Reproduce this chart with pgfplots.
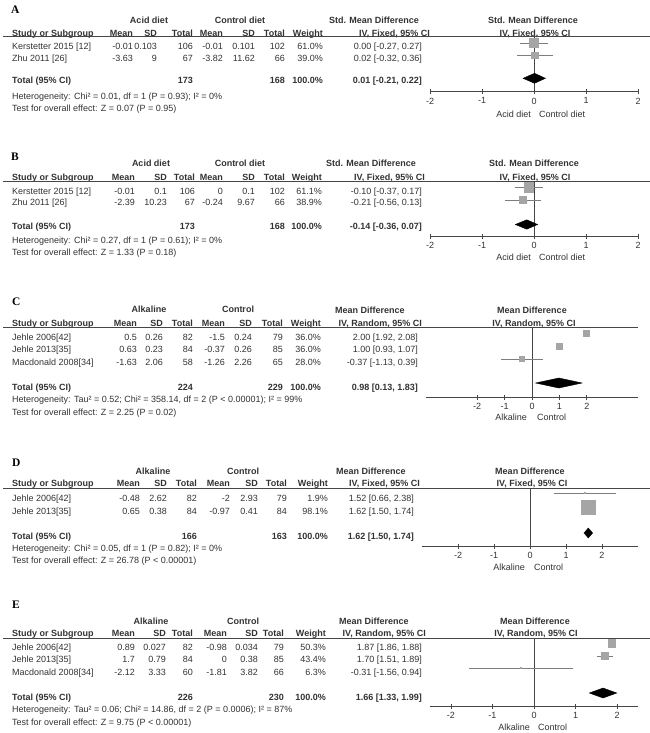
\documentclass[border=0pt]{standalone}
\usepackage{pgfplots}
\pgfplotsset{compat=1.18}
\usepackage{fontspec}
\setmainfont{Liberation Sans}
\newfontfamily\lserif{Liberation Serif}
\definecolor{tcol}{RGB}{50,50,50}
\definecolor{sqcol}{RGB}{165,165,165}
\definecolor{cicol}{RGB}{125,125,125}
\definecolor{rulecol}{RGB}{70,70,70}

\newcommand\TL[3]{\node[anchor=base west,inner sep=0pt,text=tcol] at ({(#1)*1pt},{-(#2+3.2)*1pt}) {#3};}
\newcommand\TR[3]{\node[anchor=base east,inner sep=0pt,text=tcol] at ({(#1)*1pt},{-(#2+3.2)*1pt}) {#3};}
\newcommand\TC[3]{\node[anchor=base,inner sep=0pt,text=tcol] at ({(#1)*1pt},{-(#2+3.2)*1pt}) {#3};}
\newcommand\Lab[3]{\node[anchor=west,inner sep=0pt] at ({(#1)*1pt},{-(#2)*1pt}) {\lserif\bfseries\fontsize{11.5}{13}\selectfont #3};}
\newcommand\setcols[8]{\def\cMa{#1}\def\cSa{#2}\def\cNa{#3}\def\cMb{#4}\def\cSb{#5}\def\cNb{#6}\def\cW{#7}\def\cCI{#8}}
\newcommand\Row[9]{\TL{12}{#1}{#2}\TR{\cMa}{#1}{#3}\TR{\cSa}{#1}{#4}\TR{\cNa}{#1}{#5}\TR{\cMb}{#1}{#6}\TR{\cSb}{#1}{#7}\TR{\cNb}{#1}{#8}\TR{\cW}{#1}{#9}}
\newcommand\HeadRow[1]{\Row{#1}{\bfseries Study or Subgroup}{\bfseries Mean}{\bfseries SD}{\bfseries Total}{\bfseries Mean}{\bfseries SD}{\bfseries Total}{\bfseries Weight}}
\newcommand\Rule[2]{\draw[rulecol,line width=0.8pt] (3pt,{-(#1)*1pt}) -- ({(#2)*1pt},{-(#1)*1pt});}

\pgfplotsset{
  forest/.style={scale only axis, anchor=south west, clip=false,
    axis x line*=bottom, axis y line=none, ytick=\empty,
    xtick={-2,-1,0,1,2}, minor tick num=0,
    tick align=center, major tick length=5pt,
    x axis line style={rulecol,line width=0.6pt},
    every tick/.style={rulecol,line width=0.6pt},
    xticklabel style={font=\fontsize{9}{10}\selectfont, text=tcol},
    /pgf/number format/assume math mode=true},
  zline/.style={rulecol,line width=0.6pt,mark=none},
  ciline/.style={cicol,line width=0.7pt,mark=none},
  sq/.style={only marks,mark=square*,color=sqcol,mark options={draw=sqcol,fill=sqcol,line width=0pt}},
  dia/.style={fill=black,draw=black,mark=none}
}

\begin{document}
\begin{tikzpicture}[font=\fontsize{9}{11}\selectfont]
\useasboundingbox (0pt,0pt) rectangle (650pt,-733pt);

% ================= Panel A =================
\Lab{11}{10}{A}
\setcols{133}{157}{193}{223}{255}{285}{323}{422}
\TC{149}{20}{\bfseries Acid diet}
\TC{240}{20}{\bfseries Control diet}
\TC{374}{20}{\bfseries Std. Mean Difference}
\TC{533}{20}{\bfseries Std. Mean Difference}
\HeadRow{33}
\TR{430}{33}{\bfseries IV, Fixed, 95\% CI}
\TC{535}{33}{\bfseries IV, Fixed, 95\% CI}
\Rule{36.7}{650}
\Row{46}{Kerstetter 2015 [12]}{-0.01}{0.103}{106}{-0.01}{0.101}{102}{61.0\%}\TR{\cCI}{46}{0.00 [-0.27, 0.27]}
\Row{58}{Zhu 2011 [26]}{-3.63}{9}{67}{-3.82}{11.62}{66}{39.0\%}\TR{\cCI}{58}{0.02 [-0.32, 0.36]}
\Row{80}{\bfseries Total (95\% CI)}{}{}{\bfseries 173}{}{}{\bfseries 168}{\bfseries 100.0\%}\TR{\cCI}{80}{\bfseries 0.01 [-0.21, 0.22]}
\TL{12}{96}{Heterogeneity: Chi² = 0.01, df = 1 (P = 0.93); I² = 0\%}
\TL{12}{108}{Test for overall effect: Z = 0.07 (P = 0.95)}
\TR{531}{114}{Acid diet}
\TL{539}{114}{Control diet}
\begin{axis}[forest, at={(430pt,-91.7pt)}, width=208pt, height=55pt,
  xmin=-2, xmax=2, ymin=-91.7, ymax=-36.7]
\addplot[zline] coordinates {(0,-36.7) (0,-91.7)};
\addplot[ciline] coordinates {(-0.27,-43.3) (0.27,-43.3)};
\addplot[sq,mark size=4.4pt] coordinates {(0.00,-43.3)};
\addplot[ciline] coordinates {(-0.32,-55.7) (0.36,-55.7)};
\addplot[sq,mark size=3.3pt] coordinates {(0.02,-55.7)};
\addplot[dia] coordinates {(-0.21,-78.3) (0.01,-73.3) (0.22,-78.3) (0.01,-83.3)} -- cycle;
\end{axis}

% ================= Panel B =================
\Lab{11}{157}{B}
\setcols{135}{167}{195}{223}{255}{285}{322}{422}
\TC{151}{163}{\bfseries Acid diet}
\TC{240}{163}{\bfseries Control diet}
\TC{371}{163}{\bfseries Std. Mean Difference}
\TC{534}{163}{\bfseries Std. Mean Difference}
\HeadRow{177}
\TR{425}{177}{\bfseries IV, Fixed, 95\% CI}
\TC{535}{177}{\bfseries IV, Fixed, 95\% CI}
\Rule{181}{650}
\Row{191}{Kerstetter 2015 [12]}{-0.01}{0.1}{106}{0}{0.1}{102}{61.1\%}\TR{\cCI}{191}{-0.10 [-0.37, 0.17]}
\Row{202}{Zhu 2011 [26]}{-2.39}{10.23}{67}{-0.24}{9.67}{66}{38.9\%}\TR{\cCI}{202}{-0.21 [-0.56, 0.13]}
\Row{226}{\bfseries Total (95\% CI)}{}{}{\bfseries 173}{}{}{\bfseries 168}{\bfseries 100.0\%}\TR{\cCI}{226}{\bfseries -0.14 [-0.36, 0.07]}
\TL{12}{240}{Heterogeneity: Chi² = 0.27, df = 1 (P = 0.61); I² = 0\%}
\TL{12}{252}{Test for overall effect: Z = 1.33 (P = 0.18)}
\TR{531}{257}{Acid diet}
\TL{539}{257}{Control diet}
\begin{axis}[forest, at={(430pt,-236pt)}, width=208pt, height=55pt,
  xmin=-2, xmax=2, ymin=-236, ymax=-181]
\addplot[zline] coordinates {(0,-181) (0,-236)};
\addplot[ciline] coordinates {(-0.37,-187.6) (0.17,-187.6)};
\addplot[sq,mark size=4.6pt] coordinates {(-0.10,-187.6)};
\addplot[ciline] coordinates {(-0.56,-200) (0.13,-200)};
\addplot[sq,mark size=3.2pt] coordinates {(-0.21,-200)};
\addplot[dia] coordinates {(-0.36,-224.5) (-0.14,-219.8) (0.07,-224.5) (-0.14,-229.2)} -- cycle;
\end{axis}

% ================= Panel C =================
\Lab{12}{302}{C}
\setcols{137}{163}{193}{225}{252}{283}{321}{418}
\TC{149}{309}{\bfseries Alkaline}
\TC{238}{309}{\bfseries Control}
\TC{370}{310}{\bfseries Mean Difference}
\TC{532}{310}{\bfseries Mean Difference}
\HeadRow{323}
\TR{422}{323}{\bfseries IV, Random, 95\% CI}
\TC{534}{323}{\bfseries IV, Random, 95\% CI}
\Rule{327.5}{638}
\Row{337}{Jehle 2006[42]}{0.5}{0.26}{82}{-1.5}{0.24}{79}{36.0\%}\TR{\cCI}{337}{2.00 [1.92, 2.08]}
\Row{349}{Jehle 2013[35]}{0.63}{0.23}{84}{-0.37}{0.26}{85}{36.0\%}\TR{\cCI}{349}{1.00 [0.93, 1.07]}
\Row{362}{Macdonald 2008[34]}{-1.63}{2.06}{58}{-1.26}{2.26}{65}{28.0\%}\TR{\cCI}{362}{-0.37 [-1.13, 0.39]}
\Row{387}{\bfseries Total (95\% CI)}{}{}{\bfseries 224}{}{}{\bfseries 229}{\bfseries 100.0\%}\TR{\cCI}{387}{\bfseries 0.98 [0.13, 1.83]}
\TL{12}{399}{Heterogeneity: Tau² = 0.52; Chi² = 358.14, df = 2 (P < 0.00001); I² = 99\%}
\TL{12}{412}{Test for overall effect: Z = 2.25 (P = 0.02)}
\TR{527}{417}{Alkaline}
\TL{537}{417}{Control}
\begin{axis}[forest, at={(426pt,-397pt)}, width=212pt, height=69.5pt,
  xmin=-3.87, xmax=3.87, ymin=-397, ymax=-327.5]
\addplot[zline] coordinates {(0,-327.5) (0,-397)};
\addplot[ciline] coordinates {(1.92,-333.3) (2.08,-333.3)};
\addplot[sq,mark size=3.0pt] coordinates {(2.00,-333.3)};
\addplot[ciline] coordinates {(0.93,-346) (1.07,-346)};
\addplot[sq,mark size=3.0pt] coordinates {(1.00,-346)};
\addplot[ciline] coordinates {(-1.13,-359) (0.39,-359)};
\addplot[sq,mark size=2.6pt] coordinates {(-0.37,-359)};
\addplot[dia] coordinates {(0.13,-383) (0.98,-378) (1.83,-383) (0.98,-388)} -- cycle;
\end{axis}

% ================= Panel D =================
\Lab{12}{463}{D}
\setcols{140}{167}{197}{230}{258}{287}{328}{414}
\TC{153}{471}{\bfseries Alkaline}
\TC{243}{471}{\bfseries Control}
\TC{371}{471}{\bfseries Mean Difference}
\TC{530}{471}{\bfseries Mean Difference}
\HeadRow{483}
\TR{420}{483}{\bfseries IV, Fixed, 95\% CI}
\TC{532}{483}{\bfseries IV, Fixed, 95\% CI}
\Rule{488}{650}
\Row{498}{Jehle 2006[42]}{-0.48}{2.62}{82}{-2}{2.93}{79}{1.9\%}\TR{\cCI}{498}{1.52 [0.66, 2.38]}
\Row{511}{Jehle 2013[35]}{0.65}{0.38}{84}{-0.97}{0.41}{84}{98.1\%}\TR{\cCI}{511}{1.62 [1.50, 1.74]}
\Row{536}{\bfseries Total (95\% CI)}{}{}{\bfseries 166}{}{}{\bfseries 163}{\bfseries 100.0\%}\TR{\cCI}{536}{\bfseries 1.62 [1.50, 1.74]}
\TL{12}{548}{Heterogeneity: Chi² = 0.05, df = 1 (P = 0.82); I² = 0\%}
\TL{12}{560}{Test for overall effect: Z = 26.78 (P < 0.00001)}
\TR{525}{567}{Alkaline}
\TL{534}{567}{Control}
\begin{axis}[forest, at={(422pt,-546pt)}, width=216pt, height=58pt,
  xmin=-3, xmax=3, ymin=-546, ymax=-488]
\addplot[zline] coordinates {(0,-488) (0,-546)};
\addplot[ciline] coordinates {(0.66,-493) (2.38,-493)};
\addplot[sq,mark size=0.7pt] coordinates {(1.52,-493)};
\addplot[ciline] coordinates {(1.50,-507) (1.74,-507)};
\addplot[sq,mark size=7.0pt] coordinates {(1.62,-507)};
\addplot[dia] coordinates {(1.50,-533) (1.62,-528) (1.74,-533) (1.62,-538)} -- cycle;
\end{axis}

% ================= Panel E =================
\Lab{12}{605}{E}
\setcols{135}{166}{193}{227}{258}{284}{326}{422}
\TC{151}{621}{\bfseries Alkaline}
\TC{243}{621}{\bfseries Control}
\TC{374}{621}{\bfseries Mean Difference}
\TC{535}{621}{\bfseries Mean Difference}
\HeadRow{633}
\TR{426}{633}{\bfseries IV, Random, 95\% CI}
\TC{536}{633}{\bfseries IV, Random, 95\% CI}
\Rule{638}{650}
\Row{647}{Jehle 2006[42]}{0.89}{0.027}{82}{-0.98}{0.034}{79}{50.3\%}\TR{\cCI}{647}{1.87 [1.86, 1.88]}
\Row{659}{Jehle 2013[35]}{1.7}{0.79}{84}{0}{0.38}{85}{43.4\%}\TR{\cCI}{659}{1.70 [1.51, 1.89]}
\Row{672}{Macdonald 2008[34]}{-2.12}{3.33}{60}{-1.81}{3.82}{66}{6.3\%}\TR{\cCI}{672}{-0.31 [-1.56, 0.94]}
\Row{697}{\bfseries Total (95\% CI)}{}{}{\bfseries 226}{}{}{\bfseries 230}{\bfseries 100.0\%}\TR{\cCI}{697}{\bfseries 1.66 [1.33, 1.99]}
\TL{12}{709}{Heterogeneity: Tau² = 0.06; Chi² = 14.86, df = 2 (P = 0.0006); I² = 87\%}
\TL{12}{722}{Test for overall effect: Z = 9.75 (P < 0.00001)}
\TR{530}{727}{Alkaline}
\TL{538}{727}{Control}
\begin{axis}[forest, at={(430pt,-706pt)}, width=208pt, height=68pt,
  xmin=-2.5, xmax=2.5, ymin=-706, ymax=-638]
\addplot[zline] coordinates {(0,-638) (0,-706)};
\addplot[ciline] coordinates {(1.86,-643.5) (1.88,-643.5)};
\addplot[sq,mark size=3.6pt] coordinates {(1.87,-643.5)};
\addplot[ciline] coordinates {(1.51,-656) (1.89,-656)};
\addplot[sq,mark size=3.3pt] coordinates {(1.70,-656)};
\addplot[ciline] coordinates {(-1.56,-668) (0.94,-668)};
\addplot[sq,mark size=0.7pt] coordinates {(-0.31,-668)};
\addplot[dia] coordinates {(1.33,-693) (1.66,-688) (1.99,-693) (1.66,-698)} -- cycle;
\end{axis}
\end{tikzpicture}
\end{document}
